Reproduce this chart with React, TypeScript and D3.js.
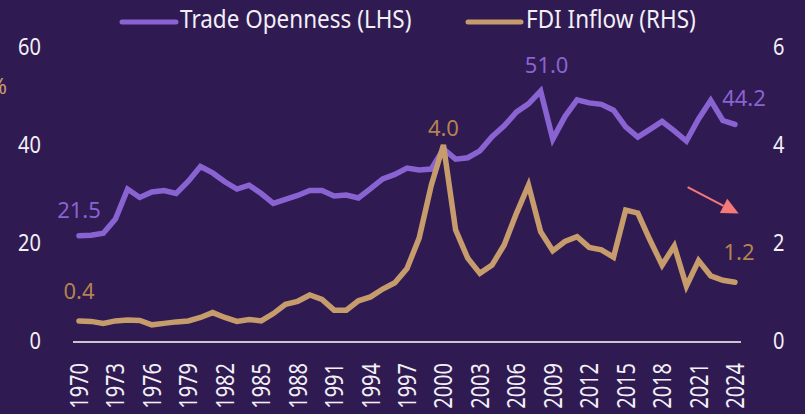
import React from "react";
import * as d3 from "d3";

const years: number[] = [
  1970, 1971, 1972, 1973, 1974, 1975, 1976, 1977, 1978, 1979,
  1980, 1981, 1982, 1983, 1984, 1985, 1986, 1987, 1988, 1989,
  1990, 1991, 1992, 1993, 1994, 1995, 1996, 1997, 1998, 1999,
  2000, 2001, 2002, 2003, 2004, 2005, 2006, 2007, 2008, 2009,
  2010, 2011, 2012, 2013, 2014, 2015, 2016, 2017, 2018, 2019,
  2020, 2021, 2022, 2023, 2024,
];

const tradeOpenness: number[] = [
  21.5, 21.6, 22.0, 24.9, 31.0, 29.3, 30.4, 30.7, 30.1, 32.6,
  35.6, 34.3, 32.5, 31.0, 31.8, 30.1, 28.1, 28.9, 29.7, 30.7,
  30.7, 29.6, 29.8, 29.2, 31.1, 33.1, 34.0, 35.3, 34.9, 35.1,
  39.2, 37.1, 37.4, 38.8, 41.7, 43.9, 46.7, 48.4, 51.0, 41.2,
  45.8, 49.2, 48.6, 48.3, 47.1, 43.7, 41.6, 43.2, 44.8, 42.9,
  40.8, 45.3, 49.1, 45.0, 44.2,
];

const fdiInflow: number[] = [
  0.41, 0.40, 0.36, 0.41, 0.43, 0.42, 0.33, 0.36, 0.39, 0.41,
  0.48, 0.58, 0.48, 0.40, 0.44, 0.41, 0.56, 0.75, 0.81, 0.94,
  0.85, 0.63, 0.63, 0.82, 0.90, 1.06, 1.19, 1.48, 2.10, 3.18,
  4.0, 2.27, 1.69, 1.38, 1.55, 1.96, 2.60, 3.18, 2.23, 1.84,
  2.03, 2.13, 1.91, 1.86, 1.71, 2.67, 2.61, 2.06, 1.55, 1.94,
  1.12, 1.64, 1.33, 1.24, 1.2,
];

const xTickYears: number[] = [1970, 1973, 1976, 1979, 1982, 1985, 1988, 1991, 1994, 1997, 2000, 2003, 2006, 2009, 2012, 2015, 2018, 2021, 2024];
const leftTicks: number[] = [0, 20, 40, 60];
const rightTicks: number[] = [0, 2, 4, 6];

const tradeLabelYears: number[] = [1970, 2008, 2024];
const fdiLabelYears: number[] = [1970, 2000, 2024];

const legendLabels: string[] = ["Trade Openness (LHS)", "FDI Inflow (RHS)"];

// arrow annotation, in data units (year, RHS value)
const arrowFrom: [number, number] = [2020.1, 3.14];
const arrowTo: [number, number] = [2024.3, 2.6];

const BG = "#301a52";
const PURPLE = "#8a63d2";
const TAN = "#c69c6d";
const TAN_TEXT = "#b4834f";
const TEXT = "#f2f0f6";
const FONT = "'Noto Sans', sans-serif";

export default function App() {
  const W = 805;
  const H = 414;
  const x = d3.scaleLinear().domain([1970, 2024]).range([79, 735]);
  const yL = d3.scaleLinear().domain([0, 60]).range([341, 47]);
  const yR = d3.scaleLinear().domain([0, 6]).range([341, 47]);

  const tradeLine = d3
    .line<number>()
    .x((_, i) => x(years[i]))
    .y((d) => yL(d));
  const fdiLine = d3
    .line<number>()
    .x((_, i) => x(years[i]))
    .y((d) => yR(d));

  const ax0 = x(arrowFrom[0]);
  const ay0 = yR(arrowFrom[1]);
  const ax1 = x(arrowTo[0]);
  const ay1 = yR(arrowTo[1]);
  const ang = Math.atan2(ay1 - ay0, ax1 - ax0);
  const headLen = 17;
  const headW = 8;
  const bx = ax1 - headLen * Math.cos(ang);
  const by = ay1 - headLen * Math.sin(ang);
  const px = -Math.sin(ang);
  const py = Math.cos(ang);
  const headPts = [
    [ax1, ay1],
    [bx + px * headW, by + py * headW],
    [bx - px * headW, by - py * headW],
  ];

  return (
    <svg
      width={W}
      height={H}
      style={{ position: "absolute", left: 0, top: 0, display: "block" }}
      fontFamily={FONT}
    >
      <rect x={0} y={0} width={W} height={H} fill={BG} />

      {/* legend */}
      <g>
        <line x1={122} x2={176} y1={22} y2={22} stroke={PURPLE} strokeWidth={5} strokeLinecap="round" />
        <text transform="translate(180,28) scale(1,1.12)" fontSize={22.5} fill={TEXT}>
          {legendLabels[0]}
        </text>
        <line x1={468} x2={521} y1={22} y2={22} stroke={TAN} strokeWidth={5} strokeLinecap="round" />
        <text transform="translate(526,28) scale(1,1.12)" fontSize={22.5} fill={TEXT}>
          {legendLabels[1]}
        </text>
      </g>

      {/* % axis title partially visible, as in the source */}
      <text x={7} y={94} textAnchor="end" fontSize={22} fill={TAN}>%</text>

      {/* left ticks */}
      {leftTicks.map((t) => (
        <text
          key={"l" + t}
          transform={`translate(41,${yL(t)}) scale(1,1.15)`}
          dy="0.36em"
          textAnchor="end"
          fontSize={20}
          fill={TEXT}
        >
          {t}
        </text>
      ))}
      {/* right ticks */}
      {rightTicks.map((t) => (
        <text
          key={"r" + t}
          transform={`translate(773,${yR(t)}) scale(1,1.15)`}
          dy="0.36em"
          textAnchor="start"
          fontSize={20}
          fill={TEXT}
        >
          {t}
        </text>
      ))}

      {/* x axis line */}
      <line x1={73} x2={741} y1={342} y2={342} stroke="#c9c6d0" strokeWidth={2} />

      {/* x tick labels */}
      {xTickYears.map((yr) => (
        <text
          key={"x" + yr}
          transform={`translate(${x(yr)},363) rotate(-90) scale(1,1.25)`}
          dy="0.36em"
          textAnchor="end"
          fontSize={20}
          fill={TEXT}
        >
          {yr}
        </text>
      ))}

      {/* lines */}
      <path d={tradeLine(tradeOpenness) || ""} fill="none" stroke={PURPLE} strokeWidth={5.5} strokeLinecap="round" strokeLinejoin="miter" />
      <path d={fdiLine(fdiInflow) || ""} fill="none" stroke={TAN} strokeWidth={5.5} strokeLinecap="round" strokeLinejoin="miter" />

      {/* data labels */}
      {tradeLabelYears.map((yr, k) => {
        const i = years.indexOf(yr);
        const dx = [0, 6, 9][k];
        return (
          <text key={"tl" + yr} x={x(yr) + dx} y={yL(tradeOpenness[i]) - 18} textAnchor="middle" fontSize={22} fill={PURPLE}>
            {tradeOpenness[i].toFixed(1)}
          </text>
        );
      })}
      {fdiLabelYears.map((yr, k) => {
        const i = years.indexOf(yr);
        const dx = [0, 0, 4][k];
        const dy = [22, 9, 22][k];
        return (
          <text key={"fl" + yr} x={x(yr) + dx} y={yR(fdiInflow[i]) - dy} textAnchor="middle" fontSize={22} fill={TAN_TEXT}>
            {fdiInflow[i].toFixed(1)}
          </text>
        );
      })}

      {/* arrow */}
      <line x1={ax0} y1={ay0} x2={bx} y2={by} stroke="#f47a7a" strokeWidth={2} />
      <polygon points={headPts.map((p) => p.join(",")).join(" ")} fill="#f47a7a" />
    </svg>
  );
}
